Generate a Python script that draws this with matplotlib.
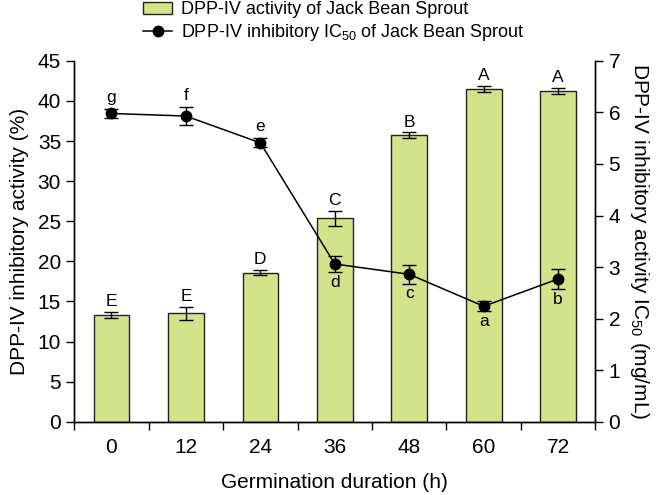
import matplotlib
matplotlib.use("Agg")
import matplotlib.pyplot as plt
from matplotlib.lines import Line2D
import numpy as np

plt.rcParams['font.family'] = ['Liberation Sans', 'DejaVu Sans']
plt.rcParams['mathtext.fontset'] = 'custom'
plt.rcParams['mathtext.rm'] = 'Liberation Sans'
plt.rcParams['mathtext.it'] = 'Liberation Sans:italic'

hours = ['0', '12', '24', '36', '48', '60', '72']
activity = [13.3, 13.5, 18.6, 25.4, 35.7, 41.5, 41.3]
activity_err = [0.37, 0.86, 0.33, 0.94, 0.37, 0.35, 0.37]
activity_letters = ['E', 'E', 'D', 'C', 'B', 'A', 'A']
ic50 = [5.98, 5.93, 5.41, 3.06, 2.86, 2.24, 2.77]
ic50_err = [0.08, 0.175, 0.09, 0.16, 0.18, 0.10, 0.19]
ic50_letters = ['g', 'f', 'e', 'd', 'c', 'a', 'b']
ic50_letter_above = [True, True, True, False, False, False, False]

fig = plt.figure(figsize=(6.63, 4.95), dpi=100)
ax = fig.add_axes([0.112, 0.148, 0.786, 0.729])
ax2 = ax.twinx()

x = np.arange(len(hours))
bar_color = '#d3e38a'
bars = ax.bar(x, activity, width=0.48, color=bar_color, edgecolor='#222222', linewidth=1.0,
              yerr=activity_err, capsize=5, error_kw=dict(elinewidth=1.0, capthick=1.0, ecolor='black'),
              label='DPP-IV activity of Jack Bean Sprout', zorder=2)
for xi, v, e, t in zip(x, activity, activity_err, activity_letters):
    ax.annotate(t, (xi, v + e), xytext=(0, 2), textcoords='offset points',
                ha='center', va='bottom', fontsize=12.5)

ax2.errorbar(x, ic50, yerr=ic50_err, color='black', marker='o', markersize=7.5,
             linewidth=1.1, capsize=5, elinewidth=1.0, capthick=1.0, zorder=3)
for xi, v, e, t, above in zip(x, ic50, ic50_err, ic50_letters, ic50_letter_above):
    if above:
        ax2.annotate(t, (xi, v + e), xytext=(0, 3), textcoords='offset points',
                     ha='center', va='bottom', fontsize=12.5)
    else:
        ax2.annotate(t, (xi, v - e), xytext=(0, -2), textcoords='offset points',
                     ha='center', va='top', fontsize=12.5)

ax.set_xlim(-0.5, len(hours) - 0.5)
ax.set_ylim(0, 45)
ax.set_yticks(np.arange(0, 46, 5))
ax2.set_ylim(0, 7)
ax2.set_yticks(np.arange(0, 8, 1))

ax.set_xticks(x)
ax.set_xticklabels(hours)
ax.set_xticks(np.arange(-0.5, len(hours), 1), minor=True)
ax.tick_params(axis='x', which='major', length=0, labelsize=15, pad=12)
ax.tick_params(axis='x', which='minor', length=6, width=1, direction='out')
ax.tick_params(axis='y', length=6, width=1, direction='out', labelsize=15)
ax2.tick_params(axis='y', length=6, width=1, direction='out', labelsize=15)

for a in (ax, ax2):
    a.spines['top'].set_visible(False)
    for s in ('left', 'right', 'bottom'):
        a.spines[s].set_linewidth(1.0)

ax.set_xlabel('Germination duration (h)', fontsize=15, labelpad=11)
ax.set_ylabel('DPP-IV inhibitory activity (%)', fontsize=15, labelpad=6)
ax2.set_ylabel('DPP-IV inhibitory activity IC$_{50}$ (mg/mL)', fontsize=15, rotation=270, labelpad=22)

line_handle = Line2D([], [], color='black', marker='o', markersize=7.5, linewidth=1.1)
handles = [bars, line_handle]
labels = ['DPP-IV activity of Jack Bean Sprout', 'DPP-IV inhibitory IC$_{50}$ of Jack Bean Sprout']
fig.legend(handles, labels, loc='upper left', bbox_to_anchor=(0.205, 1.012), frameon=False,
           fontsize=13, handlelength=1.6, handletextpad=0.5, labelspacing=0.2, borderaxespad=0)

fig.savefig('out.png', dpi=100)
